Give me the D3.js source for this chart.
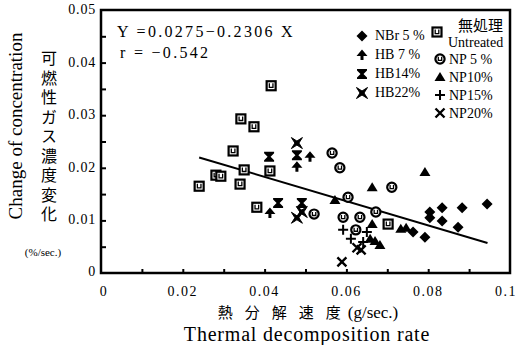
<!DOCTYPE html>
<html>
<head>
<meta charset="utf-8">
<script src="https://cdn.jsdelivr.net/npm/d3@7"></script>
<style>
  body { margin: 0; background: #fff; }
  svg text { font-family: "Liberation Serif", "DejaVu Serif", serif; fill: #000; }
  .jp { font-family: "Noto Sans CJK JP", sans-serif; }
</style>
</head>
<body>
<div class="graph"></div>
<script>
// values
const untreatedX = [0.0416, 0.0342, 0.0374, 0.0323, 0.0281, 0.0293, 0.0350, 0.0240, 0.0340, 0.0413, 0.0381, 0.0702];
const untreatedY = [0.0356, 0.0293, 0.0278, 0.0232, 0.0186, 0.0184, 0.0196, 0.0165, 0.0169, 0.0194, 0.0125, 0.0093];
const np5X = [0.0565, 0.0584, 0.0711, 0.0604, 0.0521, 0.0592, 0.0633, 0.0672, 0.0623];
const np5Y = [0.0228, 0.0200, 0.0163, 0.0144, 0.0112, 0.0106, 0.0106, 0.0116, 0.0082];
const np10X = [0.0792, 0.0663, 0.0572, 0.0663, 0.0658, 0.0670, 0.0682, 0.0733, 0.0746];
const np10Y = [0.0192, 0.0163, 0.0139, 0.0093, 0.0065, 0.0061, 0.0053, 0.0084, 0.0086];
const np15X = [0.0592, 0.0611, 0.0650, 0.0641];
const np15Y = [0.0082, 0.0065, 0.0078, 0.0059];
const np20X = [0.0589, 0.0626, 0.0636];
const np20Y = [0.0021, 0.0048, 0.0044];
const nbr5X = [0.0804, 0.0804, 0.0834, 0.0834, 0.0873, 0.0883, 0.0944, 0.0763, 0.0792];
const nbr5Y = [0.0116, 0.0105, 0.0124, 0.0099, 0.0087, 0.0124, 0.0131, 0.0078, 0.0068];
const hb7X = [0.0413, 0.0479, 0.0511];
const hb7Y = [0.0114, 0.0202, 0.0221];
const hb14X = [0.0411, 0.0433, 0.0479, 0.0491];
const hb14Y = [0.0221, 0.0133, 0.0224, 0.0133];
const hb22X = [0.0479, 0.0479, 0.0491];
const hb22Y = [0.0247, 0.0105, 0.0116];

// regression Y = a + bX
const regA = 0.0275, regB = -0.2306;
const regRange = [0.024, 0.0945];

const xTicks = [0, 0.02, 0.04, 0.06, 0.08, 0.1];
const yTicks = [0, 0.01, 0.02, 0.03, 0.04, 0.05];

const W = 524, H = 345;
const margin = { top: 10, right: 14, bottom: 72, left: 101 };

const svg = d3.select('.graph').append('svg')
  .attr('width', W).attr('height', H);

const x = d3.scaleLinear().domain([0, 0.1]).range([margin.left, W - margin.right]);
const y = d3.scaleLinear().domain([0, 0.05]).range([H - margin.bottom, margin.top]);

// marker shapes
const markers = {
  untreated: g => {
    g.append('rect').attr('x', -4.5).attr('y', -4.5).attr('width', 9).attr('height', 9)
      .attr('fill', '#fff').attr('stroke', '#000').attr('stroke-width', 2.2);
    g.append('path').attr('d', 'M-1.8,-2.5 L-1.8,1.6 L1.8,1.6 L1.8,-2.5')
      .attr('fill', 'none').attr('stroke', '#000').attr('stroke-width', 1.3);
  },
  np5: g => {
    g.append('circle').attr('r', 4.6)
      .attr('fill', '#fff').attr('stroke', '#000').attr('stroke-width', 2.2);
    g.append('path').attr('d', 'M-1.7,-2.2 L-1.7,1.4 L1.7,1.4 L1.7,-2.2')
      .attr('fill', 'none').attr('stroke', '#000').attr('stroke-width', 1.3);
  },
  np10: g => g.append('path').attr('d', 'M0,-5 L5.5,4 L-5.5,4 Z').attr('fill', '#000'),
  np15: g => g.append('path').attr('d', 'M-5,0 L5,0 M0,-5 L0,5')
    .attr('stroke', '#000').attr('stroke-width', 2),
  np20: g => g.append('path').attr('d', 'M-4.5,-4.5 L4.5,4.5 M4.5,-4.5 L-4.5,4.5')
    .attr('stroke', '#000').attr('stroke-width', 2.4),
  nbr5: g => g.append('path').attr('d', 'M0,-5.5 L5.5,0 L0,5.5 L-5.5,0 Z').attr('fill', '#000'),
  hb7: g => g.append('path').attr('d', 'M0,-5.5 L5.5,1 L1.5,1 L1.5,5 L-1.5,5 L-1.5,1 L-5.5,1 Z').attr('fill', '#000'),
  hb14: g => g.append('path').attr('d', 'M-5,-5 L5,-5 L5,-3.5 L1.5,0 L5,3.5 L5,5 L-5,5 L-5,3.5 L-1.5,0 L-5,-3.5 Z').attr('fill', '#000'),
  hb22: g => g.append('path').attr('d', 'M-5.5,-5.5 L0,-2 L5.5,-5.5 L2,0 L5.5,5.5 L0,2 L-5.5,5.5 L-2,0 Z')
    .attr('fill', '#000').attr('stroke', '#000').attr('stroke-width', 1)
};

const series = [
  { key: 'untreated', xs: untreatedX, ys: untreatedY },
  { key: 'np5', xs: np5X, ys: np5Y },
  { key: 'np10', xs: np10X, ys: np10Y },
  { key: 'np15', xs: np15X, ys: np15Y },
  { key: 'np20', xs: np20X, ys: np20Y },
  { key: 'nbr5', xs: nbr5X, ys: nbr5Y },
  { key: 'hb7', xs: hb7X, ys: hb7Y },
  { key: 'hb14', xs: hb14X, ys: hb14Y },
  { key: 'hb22', xs: hb22X, ys: hb22Y }
];

// regression line
svg.append('line')
  .attr('x1', x(regRange[0])).attr('y1', y(regA + regB * regRange[0]))
  .attr('x2', x(regRange[1])).attr('y2', y(regA + regB * regRange[1]))
  .attr('stroke', '#000').attr('stroke-width', 2);

series.forEach(s => {
  s.xs.forEach((v, i) => {
    const g = svg.append('g').attr('transform', `translate(${x(v)},${y(s.ys[i])})`);
    markers[s.key](g);
  });
});

// frame
svg.append('rect')
  .attr('x', x(0)).attr('y', y(0.05))
  .attr('width', x(0.1) - x(0)).attr('height', y(0) - y(0.05))
  .attr('fill', 'none').attr('stroke', '#000').attr('stroke-width', 2.5);

// inward ticks
const xAxis = svg.append('g').attr('transform', `translate(0,${y(0)})`)
  .call(d3.axisBottom(x).tickValues(d3.range(0.01, 0.1, 0.01)).tickSize(-4).tickFormat(''));
const yAxis = svg.append('g').attr('transform', `translate(${x(0)},0)`)
  .call(d3.axisLeft(y).tickValues(d3.range(0.005, 0.05, 0.005)).tickSize(-5).tickFormat(''));
[xAxis, yAxis].forEach(a => {
  a.select('.domain').remove();
  a.selectAll('line').attr('stroke', '#000').attr('stroke-width', 2);
});

// tick labels
const fmt = d => d === 0 ? '0' : (d === 0.1 ? '0.1' : d.toFixed(2));
svg.append('g').selectAll('text').data(xTicks).join('text')
  .attr('x', d => x(d) + (d === 0 ? 3 : d === 0.1 ? -4 : 0))
  .attr('y', y(0) + 23)
  .attr('text-anchor', 'middle')
  .attr('font-size', 14)
  .attr('letter-spacing', 1.5)
  .text(fmt);
svg.append('g').selectAll('text').data(yTicks).join('text')
  .attr('x', x(0) - 5)
  .attr('y', d => y(d) + 4 - (d === 0 ? 1 : 0))
  .attr('text-anchor', 'end')
  .attr('font-size', 14)
  .attr('letter-spacing', 0.8)
  .text(fmt);

// equation
svg.append('text').attr('x', 117).attr('y', 37).attr('font-size', 16).attr('letter-spacing', 2.3)
  .text('Y =0.0275\u22120.2306 X');
svg.append('text').attr('x', 120).attr('y', 58).attr('font-size', 16).attr('letter-spacing', 2.3)
  .text('r = \u22120.542');

// legend
const legLeft = [['nbr5', 'NBr 5 %'], ['hb7', 'HB 7 %'], ['hb14', 'HB14%'], ['hb22', 'HB22%']];
legLeft.forEach((d, i) => {
  const yy = 36 + i * 19;
  markers[d[0]](svg.append('g').attr('transform', `translate(362,${yy})`));
  svg.append('text').attr('x', 375).attr('y', yy + 4).attr('font-size', 14).text(d[1]);
});
markers.untreated(svg.append('g').attr('transform', 'translate(437,32)'));
svg.append('text').attr('class', 'jp').attr('x', 458).attr('y', 31).attr('font-size', 15).text('無処理');
svg.append('text').attr('x', 448).attr('y', 47).attr('font-size', 14).text('Untreated');
const legRight = [['np5', 'NP 5 %'], ['np10', 'NP10%'], ['np15', 'NP15%'], ['np20', 'NP20%']];
legRight.forEach((d, i) => {
  const yy = 59 + i * 18;
  markers[d[0]](svg.append('g').attr('transform', `translate(440,${yy})`));
  svg.append('text').attr('x', 449).attr('y', yy + 5).attr('font-size', 14).text(d[1]);
});

// axis titles
const xt = svg.append('text').attr('x', 308).attr('y', 318).attr('text-anchor', 'middle');
xt.append('tspan').attr('class', 'jp').attr('font-size', 15).attr('letter-spacing', 12).text('熱分解速度');
xt.append('tspan').attr('font-size', 17).attr('dx', -5).text('(g/sec.)');
svg.append('text')
  .attr('x', 307).attr('y', 341).attr('text-anchor', 'middle')
  .style('font-family', '"Liberation Serif", serif').attr('font-size', 20)
  .attr('letter-spacing', 0.8)
  .text('Thermal decomposition rate');
svg.append('text').attr('transform', 'translate(22,126) rotate(-90)')
  .attr('text-anchor', 'middle').attr('font-size', 19).text('Change of concentration');
svg.append('text').attr('class', 'jp')
  .attr('x', 49).attr('y', 50)
  .style('writing-mode', 'vertical-rl')
  .attr('font-size', 16).attr('letter-spacing', 3.5)
  .text('可燃性ガス濃度変化');
svg.append('text').attr('x', 43).attr('y', 256).attr('text-anchor', 'middle')
  .attr('font-size', 11).text('(%/sec.)');
</script>
</body>
</html>
